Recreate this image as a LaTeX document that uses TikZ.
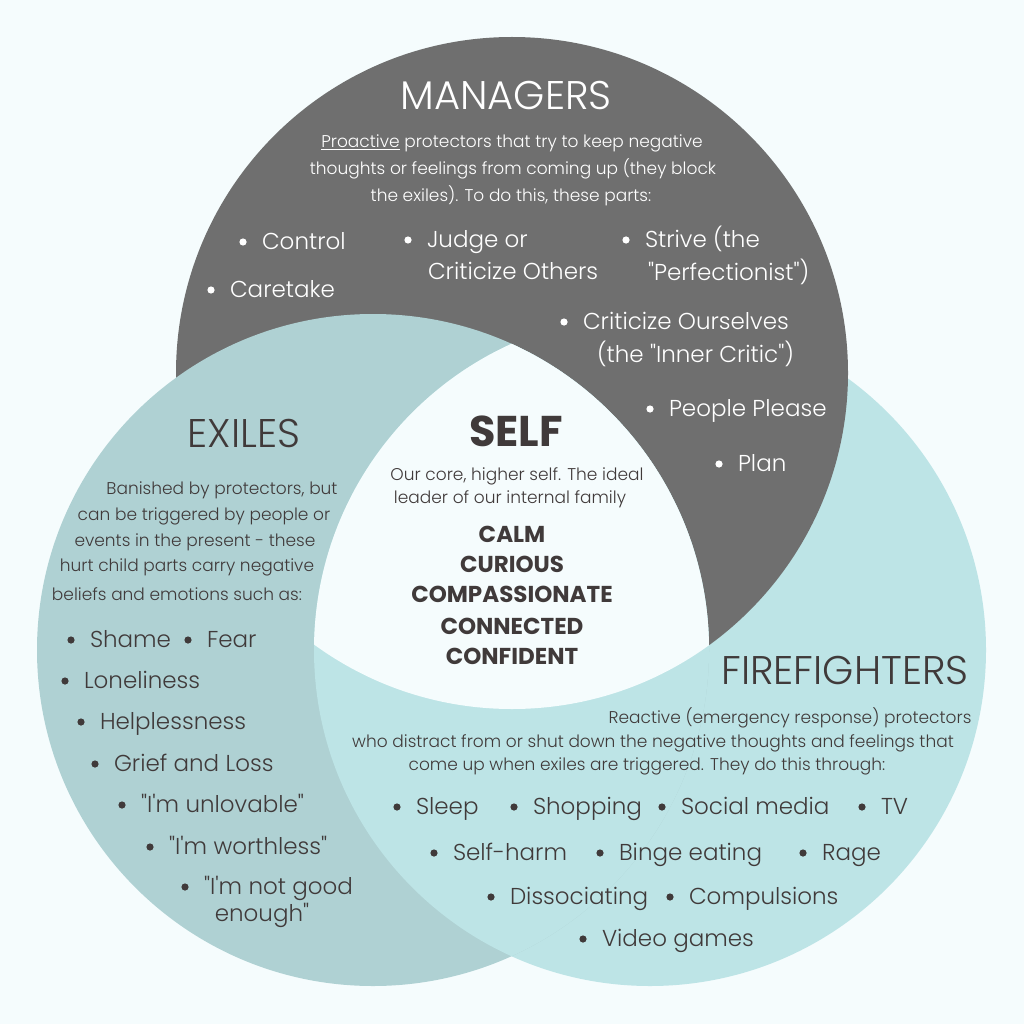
\documentclass[tikz,border=0pt]{standalone}
\usepackage{fontspec}
\setmainfont{Poppins}
\newfontfamily\plight{Poppins Light}
\definecolor{bgc}{HTML}{F5FCFD}
\definecolor{manc}{HTML}{6F6F6F}
\definecolor{exc}{HTML}{AFD1D3}
\definecolor{ffc}{HTML}{BDE4E6}
\definecolor{selfc}{HTML}{F5FCFD}
\definecolor{txt}{HTML}{403A3A}
\definecolor{wtx}{HTML}{FFFFFF}
\tikzset{
  every node/.style={inner sep=0pt, outer sep=0pt},
  title/.style={font=\plight\fontsize{40}{44}\selectfont, anchor=mid, yshift=-12pt},
  desc/.style={font=\plight\fontsize{17}{20}\selectfont, anchor=mid, yshift=-4pt},
  btext/.style={font=\plight\fontsize{23}{26}\selectfont, anchor=mid west, yshift=-6pt},
  selftitle/.style={font=\bfseries\fontsize{43}{46}\selectfont, text=txt, anchor=mid, yshift=-13pt},
  quality/.style={font=\bfseries\fontsize{23}{26}\selectfont, text=txt, anchor=mid, yshift=-6pt},
}
\newcommand{\bul}[5]{%
  \fill[#5] (#2,{#3+1}) circle (3.6);
  \node[btext,text=#5] (#1) at ({#2+19},#3) {#4};}
\begin{document}
\begin{tikzpicture}[x=1pt,y=-1pt]
\useasboundingbox (0,0) rectangle (1024,1024);
\fill[bgc] (0,0) rectangle (1024,1024);
\coordinate (M) at (512,373);
\coordinate (E) at (373,650);
\coordinate (F) at (650,650);
\def\R{336}
% base circles
\fill[ffc] (F) circle (\R);
\fill[manc] (M) circle (\R);
\fill[exc] (E) circle (\R);
% exiles/firefighters overlap shows firefighters
\begin{scope}
  \clip (E) circle (\R);
  \fill[ffc] (F) circle (\R);
\end{scope}
% triple overlap: self
\begin{scope}
  \clip (M) circle (\R);
  \clip (E) circle (\R);
  \fill[selfc] (F) circle (\R);
\end{scope}

% MANAGERS
\node[title,text=wtx] (mtitle) at (506,95) {MANAGERS};
\node[desc,text=wtx] (md1) at (512,141) {\underline{Proactive} protectors that try to keep negative};
\node[desc,text=wtx] (md2) at (513,168) {thoughts or feelings from coming up (they block};
\node[desc,text=wtx] (md3) at (511,195) {the exiles). To do this, these parts:};
\bul{mcontrol}{243}{241}{Control}{wtx}
\bul{mjudge}{408}{239}{Judge or}{wtx}
\node[btext,text=wtx] (mjudge2) at (428,271) {Criticize Others};
\bul{mstrive}{626}{239}{Strive (the}{wtx}
\node[btext,text=wtx] (mstrive2) at (648,272) {"Perfectionist")};
\bul{mcare}{211}{289}{Caretake}{wtx}
\bul{mcrit}{564}{321}{Criticize Ourselves}{wtx}
\node[btext,text=wtx] (mcrit2) at (597,354) {(the "Inner Critic")};
\bul{mpeople}{650}{408}{People Please}{wtx}
\bul{mplan}{719}{463}{Plan}{wtx}

% EXILES
\node[title,text=txt] (etitle) at (244,433) {EXILES};
\node[desc,text=txt] (ed1) at (222,488) {Banished by protectors, but};
\node[desc,text=txt] (ed2) at (204,514) {can be triggered by people or};
\node[desc,text=txt] (ed3) at (195,540) {events in the present - these};
\node[desc,text=txt] (ed4) at (187,565) {hurt child parts carry negative};
\node[desc,text=txt] (ed5) at (177,594) {beliefs and emotions such as:};
\bul{eshame}{71}{639}{Shame}{txt}
\bul{efear}{188}{639}{Fear}{txt}
\bul{elone}{65}{680}{Loneliness}{txt}
\bul{ehelp}{81}{721}{Helplessness}{txt}
\bul{egrief}{95}{763}{Grief and Loss}{txt}
\bul{eunlov}{122}{804}{"I'm unlovable"}{txt}
\bul{eworth}{150}{846}{"I'm worthless"}{txt}
\bul{enot}{185}{886}{"I'm not good}{txt}
\node[btext,text=txt,anchor=mid] (enot2) at (262,913) {enough"};

% SELF
\node[selftitle] (stitle) at (516,431) {SELF};
\node[desc,text=txt] (sd1) at (517,474) {Our core, higher self. The ideal};
\node[desc,text=txt] (sd2) at (510,497) {leader of our internal family};
\node[quality] (scalm) at (512,534) {CALM};
\node[quality] (scur) at (512,564) {CURIOUS};
\node[quality] (scomp) at (512,594) {COMPASSIONATE};
\node[quality] (sconn) at (512,626) {CONNECTED};
\node[quality] (sconf) at (512,656) {CONFIDENT};

% FIREFIGHTERS
\node[title,text=txt] (ftitle) at (845,670) {FIREFIGHTERS};
\node[desc,text=txt] (fd1) at (790,717) {Reactive (emergency response) protectors};
\node[desc,text=txt] (fd2) at (653,741) {who distract from or shut down the negative thoughts and feelings that};
\node[desc,text=txt] (fd3) at (647,764) {come up when exiles are triggered. They do this through:};
\bul{fsleep}{397}{806}{Sleep}{txt}
\bul{fshop}{514}{806}{Shopping}{txt}
\bul{fsocial}{662}{806}{Social media}{txt}
\bul{ftv}{862}{806}{TV}{txt}
\bul{fself}{434}{852}{Self-harm}{txt}
\bul{fbinge}{600}{852}{Binge eating}{txt}
\bul{frage}{803}{852}{Rage}{txt}
\bul{fdiss}{491}{896}{Dissociating}{txt}
\bul{fcomp}{670}{896}{Compulsions}{txt}
\bul{fvideo}{583}{938}{Video games}{txt}
\end{tikzpicture}
\end{document}
